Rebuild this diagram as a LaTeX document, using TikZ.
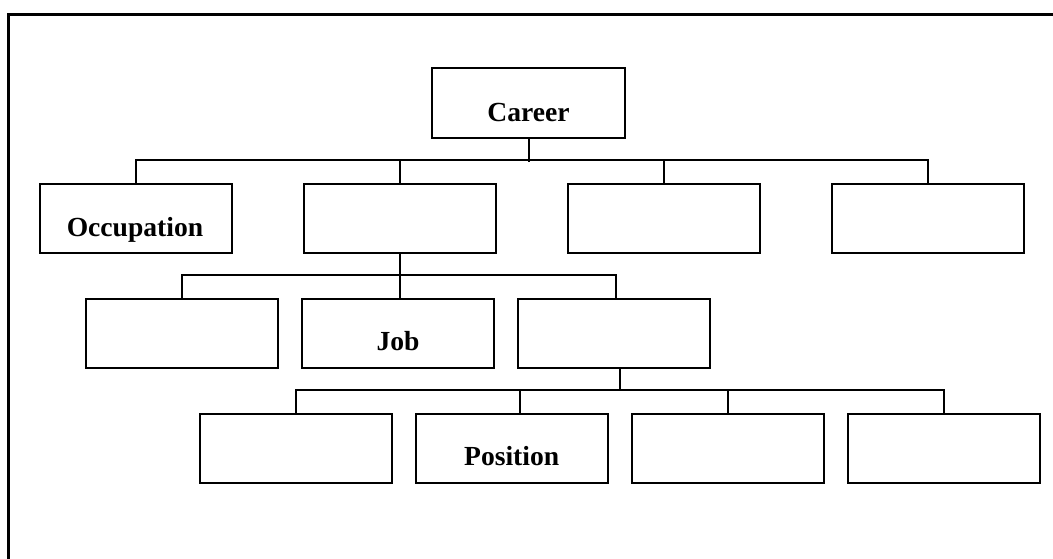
\documentclass[tikz,border=0pt]{standalone}
\usepackage{fontspec}
\setmainfont{Liberation Serif}
\begin{document}
\begin{tikzpicture}[x=0.75pt,y=-0.75pt,
  bx/.style={draw=black, line width=1.5pt, minimum width=144pt, minimum height=51.75pt, inner sep=0pt, fill=white},
  ln/.style={draw=black, line width=1.5pt},
  lbl/.style={anchor=base, inner sep=0pt, font=\fontsize{20.7}{24}\selectfont\bfseries}]
\useasboundingbox (0,0) rectangle (1053,558);
\draw[line width=2.25pt] (8,560) -- (8,14) -- (1056,14);
% level 0
\node[bx, minimum width=144.75pt, minimum height=52.5pt] (car) at (528.5,103) {};
% level 1
\node[bx] (o1) at (136,218.5) {};
\node[bx] (o2) at (400,218.5) {};
\node[bx] (o3) at (664,218.5) {};
\node[bx] (o4) at (928,218.5) {};
% level 2
\node[bx] (j1) at (182,333.5) {};
\node[bx] (j2) at (398,333.5) {};
\node[bx] (j3) at (614,333.5) {};
% level 3
\node[bx] (p1) at (295.5,448) {};
\node[bx] (p2) at (511.7,448) {};
\node[bx] (p3) at (727.5,448) {};
\node[bx] (p4) at (943.5,448) {};
% labels
\node[lbl] at ([yshift=-13.5pt]car.center) {Career};
\node[lbl] at ([yshift=-13.8pt,xshift=-0.75pt]o1.center) {Occupation};
\node[lbl] at ([yshift=-13pt]j2.center) {Job};
\node[lbl] at ([yshift=-13pt]p2.center) {Position};
% connectors level 0-1
\draw[ln] (car.south) -- ++(0,23);
\draw[ln] (o1.north) -- ++(0,-23) -| (o4.north);
\draw[ln] (o2.north) -- ++(0,-23);
\draw[ln] (o3.north) -- ++(0,-23);
% level 1-2
\draw[ln] (o2.south) -- (o2.south |- j2.north);
\draw[ln] (j1.north) -- ++(0,-23) -| ([xshift=1.5pt]j3.north);
% level 2-3
\draw[ln] ([xshift=4.5pt]j3.south) -- ++(0,22);
\draw[ln] (p1.north) -- ++(0,-23) -| (p4.north);
\draw[ln] ([xshift=6pt]p2.north) -- ++(0,-23);
\draw[ln] (p3.north) -- ++(0,-23);
\end{tikzpicture}
\end{document}
